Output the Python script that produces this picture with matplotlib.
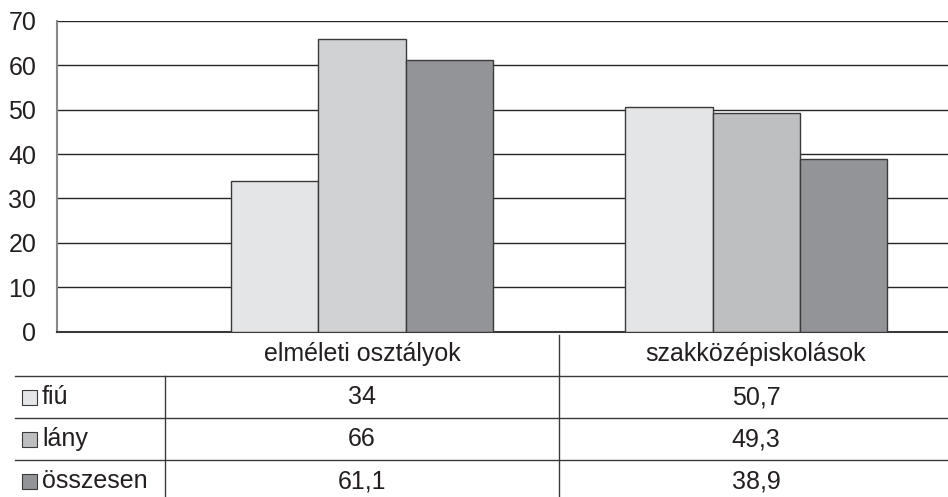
import matplotlib
matplotlib.use("Agg")
import matplotlib.pyplot as plt
from matplotlib.patches import Rectangle
import numpy as np

plt.rcParams['font.family'] = ['Liberation Sans', 'DejaVu Sans']

categories = ["elméleti osztályok", "szakközépiskolások"]
series = ["fiú", "lány", "összesen"]
values = {
    "fiú": [34, 50.7],
    "lány": [66, 49.3],
    "összesen": [61.1, 38.9],
}
value_labels = {
    "fiú": ["34", "50,7"],
    "lány": ["66", "49,3"],
    "összesen": ["61,1", "38,9"],
}
bar_colors = {
    "fiú": ["#e4e5e7", "#e4e5e7"],
    "lány": ["#d1d2d4", "#bebfc1"],
    "összesen": ["#939497", "#939497"],
}
legend_colors = {"fiú": "#e4e5e7", "lány": "#bebfc1", "összesen": "#939497"}
yticks = [0, 10, 20, 30, 40, 50, 60, 70]

W, H = 948, 497
fig = plt.figure(figsize=(W / 100, H / 100), dpi=100)

# plot area in pixel terms
ax_left, ax_right, ax_top, ax_bottom = 57, 948, 21, 331.5
ax = fig.add_axes([ax_left / W, 1 - ax_bottom / H,
                   (ax_right - ax_left) / W, (ax_bottom - ax_top) / H])

bar_w = 0.221
x = np.arange(len(categories))
for i, s in enumerate(series):
    ax.bar(x + (i - 1) * bar_w, values[s], width=bar_w,
           color=bar_colors[s], edgecolor="#3a3a3a", linewidth=1.0, zorder=3)

ax.set_ylim(0, 70)
ax.set_xlim(-0.774, 1.487)
ax.set_yticks(yticks)
ax.set_yticklabels([str(t) for t in yticks], fontsize=18, color="#231f20")
ax.tick_params(axis="y", length=0, pad=15)
ax.set_xticks([])
ax.yaxis.grid(True, color="#262626", linewidth=1.0, zorder=0)
for sp in ["top", "right"]:
    ax.spines[sp].set_visible(False)
ax.spines["left"].set_color("#8a8a8a")
ax.spines["left"].set_linewidth(1.5)
ax.spines["bottom"].set_color("#3a3a3a")
ax.spines["bottom"].set_linewidth(1.5)

# data table below the plot
tab = fig.add_axes([0, 0, 1, 1], facecolor="none")
tab.set_xlim(0, W)
tab.set_ylim(H, 0)
tab.axis("off")

fig.canvas.draw()
to_px = lambda xd: ax.transData.transform((xd, 0))[0]
bounds = [to_px(-0.5), to_px(0.5), W]
centers = [to_px(0), to_px(1)]

line_kw = dict(color="#3a3a3a", linewidth=1.0)
row_lines = [376, 418, 460]
for yl in row_lines:
    tab.plot([15, W], [yl, yl], **line_kw)
tab.plot([bounds[0], bounds[0]], [376, H], **line_kw)
tab.plot([bounds[1], bounds[1]], [335, H], **line_kw)

txt_kw = dict(fontsize=18, color="#231f20", ha="center", va="center")
for c, cat in zip(centers, categories):
    tab.text(c, 354, cat, **txt_kw)

row_centers = [397, 439, 481]
for yc, s in zip(row_centers, series):
    tab.add_patch(Rectangle((22, yc - 7), 15, 15, facecolor=legend_colors[s],
                            edgecolor="#3a3a3a", linewidth=0.8))
    tab.text(42, yc, s, fontsize=18, color="#231f20", ha="left", va="center")
    for c, lab in zip(centers, value_labels[s]):
        tab.text(c, yc, lab, **txt_kw)

fig.savefig("out.png", dpi=100, facecolor="white")
